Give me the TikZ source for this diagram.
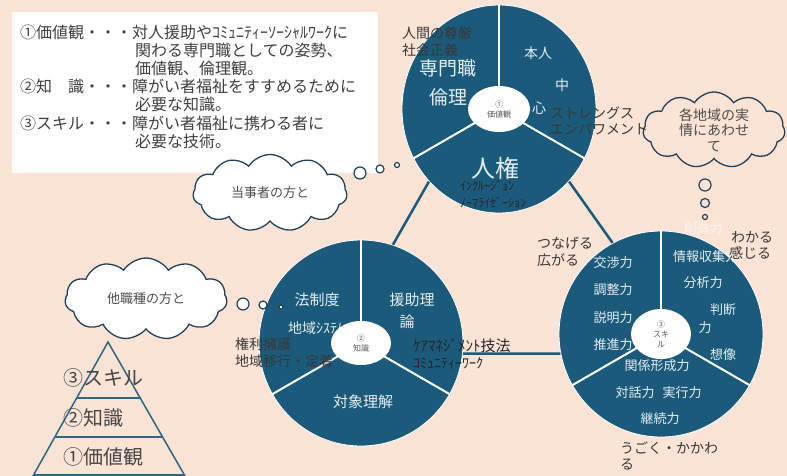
\documentclass[tikz,border=0pt]{standalone}
\usepackage{fontspec}
\setmainfont{Noto Sans CJK JP}
\usetikzlibrary{shapes.geometric,shapes.symbols}
\definecolor{bg}{HTML}{FBE3D6}
\definecolor{piecol}{HTML}{1B5A7B}
\definecolor{pietxt}{HTML}{E4EEF3}
\definecolor{darktxt}{HTML}{383838}
\definecolor{cloudline}{HTML}{23405A}
\definecolor{pyrline}{HTML}{2E6585}
\begin{document}
\begin{tikzpicture}[x=1pt,y=-1pt,
  fs/.style={font=\fontsize{#1}{#1}\selectfont},
  piec/.style={ellipse, fill=piecol, draw=white, line width=0.8pt, inner sep=0},
  hub/.style={ellipse, fill=white, inner sep=0, font=\fontsize{8}{10}\selectfont, text=black!65, align=center},
  divider/.style={white, line width=2pt},
  link/.style={piecol, line width=2.5pt},
  wt/.style={text=pietxt, inner sep=0},
  dt/.style={text=darktxt, inner sep=0},
  cloudsh/.style={cloud, cloud puffs=11, cloud puff arc=115, cloud ignores aspect, draw=cloudline, line width=1.3pt, inner sep=0, fs=13, text=black!70},
  bubble/.style={circle, draw=cloudline, line width=1.2pt, inner sep=0},
  pyr/.style={pyrline, line width=1.5pt},
  boxt/.style={dt, anchor=west, fs=16, text=black!75}
]
\fill[bg] (0,0) rectangle (787,476);
\useasboundingbox (0,0) rectangle (787,476);

% explanation box
\node[fill=white, minimum width=366pt, minimum height=161pt, anchor=north west, inner sep=0] (box) at (12,12) {};
\node[boxt] (b1) at (20,32) {①価値観・・・対人援助やｺﾐｭﾆﾃｨｰｿｰｼｬﾙﾜｰｸに};
\node[boxt] (b2) at (135,50) {関わる専門職としての姿勢、};
\node[boxt] (b3) at (135,68) {価値観、倫理観。};
\node[boxt] (b4) at (20,86) {②知　識・・・障がい者福祉をすすめるために};
\node[boxt] (b5) at (135,104) {必要な知識。};
\node[boxt] (b6) at (20,123) {③スキル・・・障がい者福祉に携わる者に};
\node[boxt] (b7) at (135,141) {必要な技術。};

% circles
\node[piec, minimum width=194pt, minimum height=208pt] (vc) at (499,109) {};
\node[piec, minimum width=204pt, minimum height=206pt] (kc) at (361,343) {};
\node[piec, minimum width=204pt, minimum height=206pt] (sc) at (661,334) {};

% links
\draw[link] (vc.226) -- (kc.72);
\draw[link] (vc.314) -- (sc.118);
\draw[link] (kc.354) -- (sc.191);

% dividers
\foreach \c in {vc,kc,sc}{
  \draw[divider] (\c.center) -- (\c.90);
  \draw[divider] (\c.center) -- (\c.210);
  \draw[divider] (\c.center) -- (\c.330);
}

% top circle texts
\node[dt, anchor=west, fs=14] (vn1) at (402,33) {人間の尊厳};
\node[dt, anchor=west, fs=14] (vn2) at (402,50) {社会正義};
\node[wt, fs=19] (vs) at (448,68) {専門職};
\node[wt, fs=19] (vr) at (448,97) {倫理};
\node[wt, fs=14] (vp1) at (538,53) {本人};
\node[wt, fs=14] (vp2) at (562,85) {中};
\node[wt, fs=14] (vp3) at (539,108) {心};
\node[dt, anchor=west, fs=14] (vst1) at (550,113) {ストレングス};
\node[dt, anchor=west, fs=14] (vst2) at (550,129) {エンパワメント};
\node[wt, fs=24] (vj) at (495,168) {人権};
\node[dt, fs=12, text=black!85] (vin) at (487,186) {ｲﾝｸﾙｰｼﾞｮﾝ};
\node[dt, fs=12, text=black!85] (vno) at (493,203) {ﾉｰﾏﾗｲｾﾞｰｼｮﾝ};
\node[hub, minimum width=62pt, minimum height=46pt] (vh) at (vc.center) {①\\価値観};

% bottom-left circle texts
\node[wt, fs=15] (kl) at (317,300) {法制度};
\node[wt, anchor=west, fs=14] (ks) at (288,328) {地域ｼｽﾃﾑ};
\node[hub, minimum width=60pt, minimum height=44pt] (kh) at (kc.center) {②\\知識};
\node[dt, anchor=west, fs=14] (kr1) at (235,344) {権利擁護};
\node[dt, anchor=west, fs=14] (kr2) at (235,361) {地域移行・定着};
\node[wt, fs=15] (ke1) at (412,300) {援助理};
\node[wt, fs=15] (ke2) at (407,322) {論};
\node[dt, anchor=west, fs=15, text=black!85] (kcm) at (413,346) {ｹｱﾏﾈｼﾞﾒﾝﾄ技法};
\node[dt, anchor=west, fs=14, text=black!85] (kcw) at (413,363) {ｺﾐｭﾆﾃｨｰﾜｰｸ};
\node[wt, fs=15] (kt) at (363,402) {対象理解};

% bottom-right circle texts
\node[wt, fs=13] (s1) at (613,263) {交渉力};
\node[wt, fs=13] (s2) at (613,290) {調整力};
\node[wt, fs=13] (s3) at (613,318) {説明力};
\node[wt, fs=13] (s4) at (613,345) {推進力};
\node[wt, anchor=west, fs=13] (s5) at (673,257) {情報収集力};
\node[wt, fs=13] (s6) at (703,283) {分析力};
\node[wt, fs=13] (s7) at (723,310) {判断};
\node[wt, fs=13] (s8) at (705,328) {力};
\node[wt, fs=13] (s9) at (723,355) {想像};
\node[wt, fs=13] (s10) at (657,366) {関係形成力};
\node[wt, fs=13] (s11) at (635,393) {対話力};
\node[wt, fs=13] (s12) at (682,393) {実行力};
\node[wt, fs=13] (s13) at (660,419) {継続力};
\node[hub, minimum width=60pt, minimum height=50pt, font=\fontsize{8}{10}\selectfont] (sh) at (sc.center) {③\\スキ\\ル};
\node[inner sep=0, fs=13, text=white!55!bg] (s14) at (703,229) {創造力};
\node[dt, anchor=west, fs=14] (sa1) at (537,243) {つなげる};
\node[dt, anchor=west, fs=14] (sa2) at (537,260) {広がる};
\node[dt, anchor=west, fs=14] (sb1) at (731,237) {わかる};
\node[dt, anchor=west, fs=14] (sb2) at (729,253) {感じる};
\node[dt, anchor=west, fs=14] (sc1) at (620,448) {うごく・かかわ};
\node[dt, anchor=west, fs=14] (sc2) at (620,465) {る};

% clouds
\node[cloudsh, fill=white, minimum width=154pt, minimum height=77pt] (c1) at (270,193) {当事者の方と};
\node[bubble, fill=white, minimum size=12pt] (c1a) at (360,173) {};
\node[bubble, fill=white, minimum size=8pt] (c1b) at (380,169) {};
\node[bubble, fill=white, minimum size=5pt] (c1c) at (397,165) {};

\node[cloudsh, fill=white, minimum width=162pt, minimum height=82pt] (c2) at (146,299) {他職種の方と};
\node[bubble, fill=white, minimum size=12pt] (c2a) at (243,304) {};
\node[bubble, fill=white, minimum size=8pt] (c2b) at (263,305) {};
\node[bubble, fill=white, minimum size=4pt] (c2c) at (281,307) {};

\node[cloudsh, minimum width=142pt, minimum height=76pt, align=center, font=\fontsize{14}{15.5}\selectfont] (c3) at (714,130) {各地域の実\\情にあわせ\\て};
\node[bubble, minimum size=12pt] (c3a) at (705,185) {};
\node[bubble, minimum size=9pt] (c3b) at (705,203) {};
\node[bubble, minimum size=5pt] (c3c) at (705,217) {};

% pyramid
\draw[pyr] (33,476) -- (108,342) -- (185,476);
\draw[pyr] (76,398) -- (140,398);
\draw[pyr] (55,437) -- (162,437);
\draw[pyr] (33,475) -- (185,475);
\node[dt, anchor=west, fs=20, text=black!72] (p3) at (63,378) {③スキル};
\node[dt, anchor=west, fs=20, text=black!72] (p2) at (63,418) {②知識};
\node[dt, anchor=west, fs=20, text=black!72] (p1) at (63,457) {①価値観};
\end{tikzpicture}
\end{document}
